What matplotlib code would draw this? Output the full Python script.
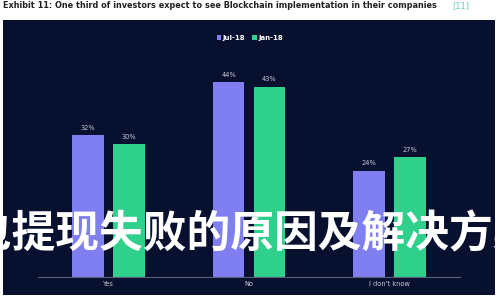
import matplotlib
matplotlib.use("Agg")
import matplotlib.pyplot as plt
import numpy as np

categories = ["Yes", "No", "I don't know"]
jul18 = [32, 44, 24]
jan18 = [30, 43, 27]
series_names = ["Jul-18", "Jan-18"]

title = "Exhibit 11: One third of investors expect to see Blockchain implementation in their companies"
overlay = "钱包提现失败的原因及解决方案"

purple = "#7f7ff2"
green = "#2fd08c"
navy = "#07102e"
label_grey = "#c8cbd8"

fig = plt.figure(figsize=(5, 3), dpi=100, facecolor="white")

# dark panel behind the chart
bg = fig.add_axes([3 / 500, 5 / 300, 492 / 500, 275 / 300])
bg.set_facecolor(navy)
bg.set_xticks([])
bg.set_yticks([])
for s in bg.spines.values():
    s.set_visible(False)

ax = fig.add_axes([38 / 500, 23 / 300, 422 / 500, 221.5 / 300])
ax.set_facecolor("none")
x = np.arange(len(categories))
off = 0.145
w = 0.225
b1 = ax.bar(x - off, jul18, w, color=purple, label=series_names[0])
b2 = ax.bar(x + off, jan18, w, color=green, label=series_names[1])

for bars, vals in ((b1, jul18), (b2, jan18)):
    for bar, v in zip(bars, vals):
        ax.text(bar.get_x() + bar.get_width() / 2, v + 1.0, f"{v}%",
                ha="center", va="bottom", fontsize=4.8, color=label_grey)

ax.set_xlim(-0.5, 2.5)
ax.set_ylim(0, 50)
ax.set_xticks(x)
ax.set_xticklabels(categories, fontsize=4.8, color=label_grey)
ax.tick_params(axis="x", length=0, pad=3)
ax.set_yticks([])
for s in ["top", "right", "left"]:
    ax.spines[s].set_visible(False)
ax.spines["bottom"].set_color("#5a607a")
ax.spines["bottom"].set_linewidth(0.8)

leg = fig.legend(handles=[b1, b2], loc="center", bbox_to_anchor=(250 / 500, 1 - 38 / 300),
                 ncol=2, frameon=False, fontsize=5, handlelength=0.6, handleheight=0.6,
                 handletextpad=0.3, columnspacing=1.0)
for t in leg.get_texts():
    t.set_color("white")
    t.set_fontweight("bold")

fig.text(3 / 500, 1 - 6 / 300, title, ha="left", va="center",
         fontsize=5.9, fontweight="bold", color="#222222")
fig.text(452 / 500, 1 - 6 / 300, "[11]", ha="left", va="center",
         fontsize=5.9, color="#5fc8b8")

fig.text(231 / 500, 1 - 234 / 300, overlay, ha="center", va="center",
         fontsize=31.5, fontweight="bold", color="white",
         family=["Noto Sans CJK SC", "DejaVu Sans"])

fig.savefig("out.png", dpi=100, facecolor="white")
